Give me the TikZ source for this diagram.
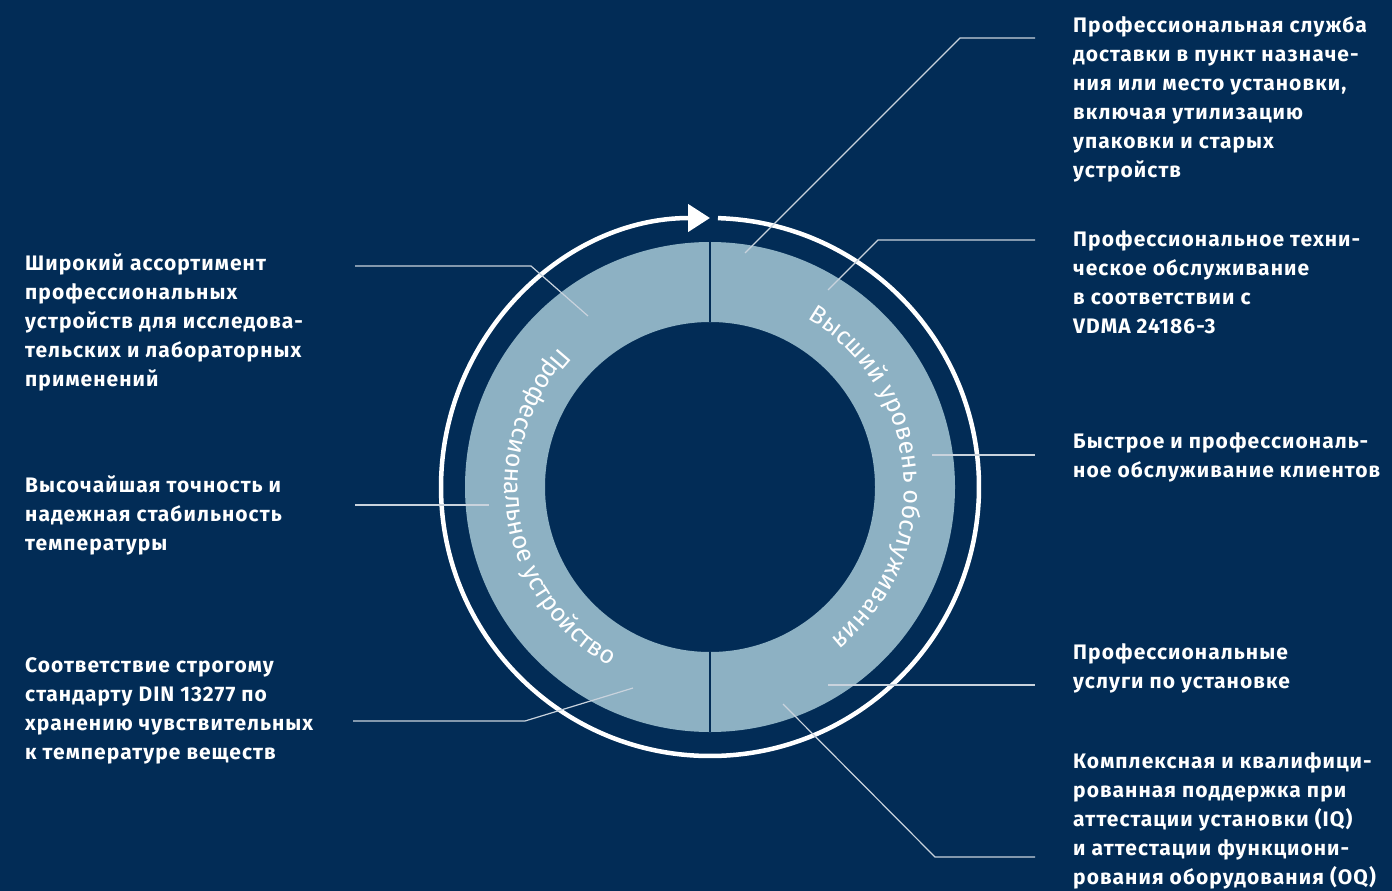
\documentclass[tikz,border=0pt]{standalone}
\usepackage{fontspec}
\setmainfont{Fira Sans}
\newfontfamily\labelfont[LetterSpace=5]{Fira Sans}
\newfontfamily\ringfont{Fira Sans}
\usetikzlibrary{arrows.meta,decorations.text}
\definecolor{navy}{HTML}{022C56}
\definecolor{ringblue}{HTML}{8DB1C3}
\definecolor{leadgrey}{HTML}{C9D3DD}
\begin{document}
\begin{tikzpicture}[x=1pt,y=1pt,
  info/.style={anchor=north west,inner sep=0pt,align=left,text=white,font=\labelfont\bfseries\fontsize{21}{29}\selectfont},
  leader/.style={draw=leadgrey,line width=1.2pt},
  divider/.style={draw=navy,line width=2.5pt},
  ringtext/.style={decorate,decoration={text along path,text align=left,text color=white,text={|\ringfont\fontsize{25}{25}\selectfont|#1}}}]
\useasboundingbox (0,0) rectangle (1392,-891);
\fill[navy] (0,0) rectangle (1392,-891);
\coordinate (c) at (710,-487);
% ring
\fill[ringblue,even odd rule] (c) circle[radius=245] (c) circle[radius=165];
\draw[divider] (710,-242) -- (710,-322);
\draw[divider] (710,-652) -- (710,-732);
\path[ringtext={Профессиональное устройство}] (c) ++(137:205) arc[start angle=137,end angle=265,radius=205];
\path[ringtext={Высший уровень обслуживания}] (c) ++(60:194) arc[start angle=60,end angle=-75,radius=194];
\draw[white,line width=4.5pt,-{Triangle[length=22pt,width=27pt]}] (c) ++(88.3:269) arc[start angle=88.3,end angle=-270,radius=269];
\begin{scope}[every node/.style={info}]
\node (r1) at (1073,-16) {Профессиональная служба\\доставки в пункт назначе-\\ния или место установки,\\включая утилизацию\\упаковки и старых\\устройств};
\node (r2) at (1073,-230) {Профессиональное техни-\\ческое обслуживание\\в соответствии с\\VDMA 24186-3};
\node (r3) at (1073,-432) {Быстрое и профессиональ-\\ное обслуживание клиентов};
\node (r4) at (1073,-643) {Профессиональные\\услуги по установке};
\node (r5) at (1073,-752) {Комплексная и квалифици-\\рованная поддержка при\\аттестации установки (IQ)\\и аттестации функциони-\\рования оборудования (OQ)};
\node (l1) at (25,-253) {Широкий ассортимент\\профессиональных\\устройств для исследова-\\тельских и лабораторных\\применений};
\node (l2) at (25,-475) {Высочайшая точность и\\надежная стабильность\\температуры};
\node (l3) at (25,-657) {Соответствие строгому\\стандарту DIN 13277 по\\хранению чувствительных\\к температуре веществ};
\end{scope}
\begin{scope}
\coordinate (p1) at (745,-253); \coordinate (k1) at (960,-38); \coordinate (e1) at (1035,-38);
\coordinate (p2) at (828,-290); \coordinate (k2) at (878,-240); \coordinate (e2) at (1035,-240);
\coordinate (p3) at (932,-455); \coordinate (e3) at (1035,-455);
\coordinate (p4) at (828,-685); \coordinate (e4) at (1035,-685);
\coordinate (p5) at (783,-704); \coordinate (k5) at (935,-857); \coordinate (e5) at (1035,-857);
\coordinate (p6) at (588,-316); \coordinate (k6) at (531,-266); \coordinate (e6) at (355,-266);
\coordinate (p7) at (489,-505); \coordinate (e7) at (355,-505);
\coordinate (p8) at (633,-688); \coordinate (k8) at (525,-721); \coordinate (e8) at (353,-721);
\draw[leader] (p1) -- (k1) -- (e1);
\draw[leader] (p2) -- (k2) -- (e2);
\draw[leader] (p3) -- (e3);
\draw[leader] (p4) -- (e4);
\draw[leader] (p5) -- (k5) -- (e5);
\draw[leader] (p6) -- (k6) -- (e6);
\draw[leader] (p7) -- (e7);
\draw[leader] (p8) -- (k8) -- (e8);
\end{scope}
\end{tikzpicture}
\end{document}
